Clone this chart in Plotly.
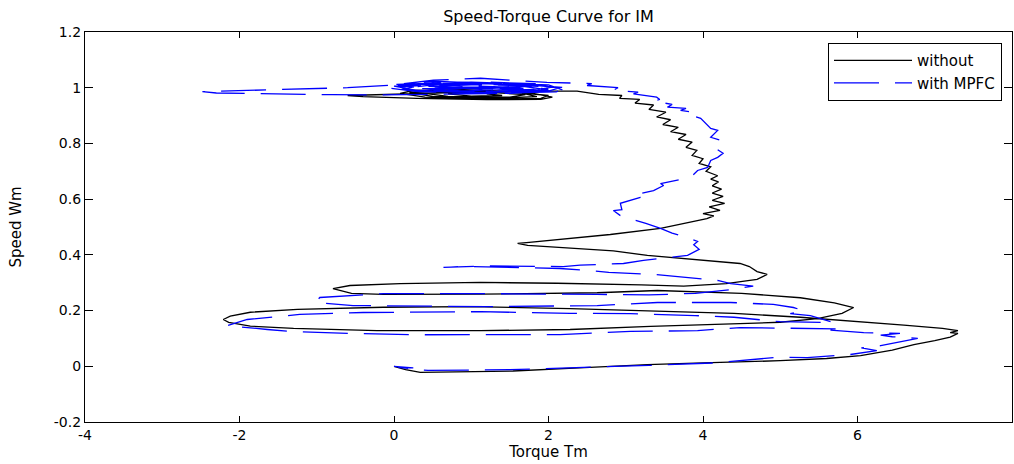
import plotly.graph_objects as go

# ---------------- data ----------------
without_torque = [
    0.00, 0.15, 0.34, 0.80, 1.54, 2.40, 3.28, 4.00, 5.00, 5.60, 6.04, 6.45, 6.73, 7.00, 7.20, 7.30, 7.20, 7.30,
    7.10, 6.60, 5.91, 5.26, 4.40, 3.41, 2.28, 1.00, -0.14, -1.25, -1.86, -2.12, -2.21, -2.14, -1.86, -1.30,
    -0.83, -0.22, 1.12, 2.28, 3.32, 4.30, 5.00, 5.48, 5.80, 5.95, 5.70, 5.26, 4.50, 3.41, 2.63, 1.12, -0.14,
    -0.55, -0.79, -0.57, 0.08, 1.12, 2.11, 3.20, 3.75, 4.30, 4.70, 4.83, 4.70, 4.60, 4.48, 3.28, 2.84, 1.73,
    1.60, 1.75, 2.15, 2.80, 3.45, 3.80, 4.05,
    4.14, 4.00, 4.22, 4.08, 4.28, 4.12, 4.26, 4.12, 4.24, 4.12, 4.20, 4.10, 4.19, 4.04, 4.10, 3.95, 4.00,
    3.86, 3.92, 3.78, 3.86, 3.68, 3.78, 3.58, 3.68, 3.48, 3.58, 3.40, 3.52, 3.30, 3.36, 3.12, 3.18, 2.92,
    2.95, 2.65, 2.37,
    1.80, 1.00, 0.20, -0.40, -0.60, -0.40, 0.30, 1.20, 1.90, 2.05, 1.70, 0.90, 0.25, 0.08, 0.40, 1.20, 1.90,
    2.00, 1.40, 0.60, 0.20, 0.50, 1.30, 1.85, 1.60, 0.90, 0.40, 0.70, 1.50, 1.70, 1.20, 0.70, 1.00, 1.40, 1.20,
]
without_speed = [
    0.000, -0.012, -0.022, -0.021, -0.017, -0.006, 0.006, 0.012, 0.020, 0.028, 0.038, 0.058, 0.078, 0.092,
    0.105, 0.118, 0.121, 0.128,
    0.136, 0.148, 0.162, 0.176, 0.190, 0.198, 0.207, 0.214, 0.212, 0.204, 0.194, 0.180, 0.168, 0.158, 0.144,
    0.136, 0.132, 0.128, 0.128, 0.132, 0.143, 0.153, 0.158, 0.171, 0.190, 0.211, 0.228, 0.246, 0.262, 0.272,
    0.264, 0.259, 0.258, 0.262, 0.279, 0.290, 0.297, 0.301, 0.298, 0.292, 0.288, 0.297, 0.312, 0.330, 0.340,
    0.358, 0.369, 0.398, 0.414, 0.434, 0.441, 0.445, 0.455, 0.473, 0.495, 0.516, 0.530,
    0.540, 0.548, 0.560, 0.572, 0.585, 0.596, 0.610, 0.622, 0.636, 0.648, 0.662, 0.672, 0.684, 0.700, 0.716,
    0.728, 0.745, 0.757, 0.775, 0.786, 0.805, 0.815, 0.832, 0.842, 0.858, 0.868, 0.885, 0.895, 0.912, 0.922,
    0.938, 0.945, 0.958, 0.962, 0.972, 0.976, 0.988,
    0.988, 0.984, 0.979, 0.975, 0.972, 0.968, 0.962, 0.957, 0.958, 0.966, 0.985, 0.993, 0.990, 0.980, 0.966,
    0.959, 0.962, 0.972, 0.988, 0.990, 0.982, 0.969, 0.962, 0.968, 0.984, 0.989, 0.980, 0.969, 0.966, 0.975,
    0.984, 0.978, 0.970, 0.972, 0.978,
]

mpfc_torque = [
    0.00, 0.25, 0.05, 0.44, 1.50, 2.41, 3.30, 4.14, 4.60, 5.00, 5.35, 5.90, 6.25, 6.05, 6.30, 6.55, 6.78,
    6.45, 6.30, 6.55, 6.08, 5.65, 5.80,
    4.48, 3.93, 3.06, 2.15, 0.99, 0.25, -0.57, -1.34, -1.64, -1.95, -2.16,
    -1.90, -1.22, -0.40, 0.47, 1.12, 2.28, 3.06, 3.90, 4.40, 5.00, 5.69, 5.39, 5.13, 5.30, 5.17,
    4.91, 4.36, 3.41, 2.63, 1.20, -0.53, -1.02,
    -0.96, -0.14, 1.12, 2.63, 3.30, 3.90, 4.36, 4.65, 4.36, 4.19, 3.60, 3.36, 2.78, 2.54, 2.15, 0.99, 0.64,
    1.20, 2.19, 2.41, 2.97, 3.23, 3.80, 3.95, 3.88, 3.93, 3.75, 3.60, 3.45, 3.26, 2.93, 2.84, 2.95, 2.93,
    3.19, 3.10, 3.36, 3.49, 3.45, 3.84, 3.93, 4.06, 4.10, 4.19, 4.26, 4.14, 4.23, 4.10, 4.19, 4.10, 3.97,
    3.85, 3.90, 3.71, 3.78, 3.54, 3.60, 3.36, 3.44, 3.40, 3.10, 3.16, 2.84, 2.90, 2.50, 2.56, 1.98, 1.54,
    1.12, 0.51,
    0.00, -0.60, -1.50, -2.20, -2.48, -2.30, -1.60, -0.80, -0.20, 0.40,
    1.50, 2.20, 2.00, 1.00, 0.00, -0.10, 0.30, 1.20, 2.10, 2.25, 1.50, 0.50, 0.00, 0.30, 1.00, 2.00, 2.15,
    1.40, 0.50, 0.05, 0.20, 0.80, 1.70, 2.05, 1.90, 1.20, 0.40, 0.10, 0.60, 1.40, 2.00, 1.80, 1.00, 0.30,
    0.40, 1.00, 1.80, 1.95, 1.20, 0.60, 0.50, 0.90, 1.50, 1.70, 1.20, 0.70, 0.90, 1.50, 1.40, 1.00,
    0.20, 0.00, 0.60, 1.60, 2.10, 1.90, 1.00, 0.20, 0.10, 0.70, 1.60, 1.95, 1.50, 0.60, 0.25, 0.50, 1.30,
    1.85, 1.60, 0.80, 0.40, 0.80, 1.50, 1.65, 1.10, 0.60, 1.00, 1.40, 1.20,
]
mpfc_speed = [
    0.000, -0.006, -0.004, -0.015, -0.012, -0.005, 0.003, 0.012, 0.024, 0.033, 0.031, 0.042, 0.056, 0.066,
    0.074, 0.088, 0.100, 0.106, 0.112, 0.118, 0.121, 0.130, 0.134,
    0.139, 0.128, 0.125, 0.114, 0.114, 0.113, 0.118, 0.125, 0.132, 0.139, 0.146,
    0.168, 0.186, 0.193, 0.196, 0.196, 0.190, 0.189, 0.182, 0.176, 0.160, 0.157, 0.182, 0.189, 0.200, 0.211,
    0.222, 0.229, 0.229, 0.218, 0.214, 0.218, 0.229,
    0.247, 0.261, 0.261, 0.258, 0.256, 0.262, 0.275, 0.288, 0.297, 0.308, 0.322, 0.330, 0.337, 0.344, 0.351,
    0.358, 0.355,
    0.360, 0.358, 0.363, 0.369, 0.380, 0.398, 0.420, 0.436, 0.448, 0.466, 0.478, 0.495, 0.513, 0.541, 0.559,
    0.562, 0.585,
    0.606, 0.614, 0.631, 0.649, 0.656, 0.678, 0.703, 0.714, 0.739, 0.750, 0.765, 0.786, 0.811, 0.822, 0.847,
    0.854, 0.890,
    0.900, 0.910, 0.919, 0.926, 0.930, 0.940, 0.952, 0.958, 0.966, 0.978, 0.984, 0.991, 1.000, 1.008, 1.015,
    1.019, 1.027,
    1.034, 1.027,
    1.010, 1.000, 0.994, 0.990, 0.986, 0.981, 0.977, 0.975, 0.974, 0.976,
    0.980, 0.990, 1.010, 1.020, 1.012, 1.000, 0.986, 0.979, 0.985, 1.000, 1.015, 1.018, 1.005, 0.990, 0.982,
    0.988, 1.000, 1.012, 1.024, 1.008, 0.992, 0.984, 0.986, 1.002, 1.014, 1.020, 1.010, 0.995, 0.985, 0.982,
    0.990, 1.008, 1.016, 1.012, 0.998, 0.986, 0.990, 1.004, 1.012, 1.006, 0.994, 0.988, 0.996, 1.006, 1.000,
    0.994, 0.998, 1.004, 1.002, 1.000,
    0.996, 1.006, 1.016, 1.014, 1.002, 0.990, 0.984, 0.990, 1.004, 1.012, 1.008, 0.994, 0.986, 0.990, 1.002,
    1.010, 1.004, 0.994, 0.992, 1.000, 1.006, 0.998, 0.992, 0.994, 1.002, 1.003, 0.998,
    0.996, 0.999,
]

x_tick_vals = [-4, -2, 0, 2, 4, 6, 8]
x_tick_text = ["-4", "-2", "0", "2", "4", "6", "8"]
y_tick_vals = [-0.2, 0, 0.2, 0.4, 0.6, 0.8, 1.0, 1.2]
y_tick_text = ["-0.2", "0", "0.2", "0.4", "0.6", "0.8", "1", "1.2"]

FONT = "DejaVu Sans, Liberation Sans, Arial, sans-serif"

n = min(len(mpfc_torque), len(mpfc_speed))

fig = go.Figure()
fig.add_trace(go.Scatter(x=without_torque, y=without_speed, mode="lines", name="without",
                         line=dict(color="black", width=1.3)))
fig.add_trace(go.Scatter(x=mpfc_torque[:n], y=mpfc_speed[:n], mode="lines", name="with MPFC",
                         line=dict(color="#0000ff", width=1.3, dash="45px,16px")))

axis_common = dict(showline=True, linecolor="black", linewidth=1.2, mirror="ticks",
                   ticks="inside", tickcolor="black", tickwidth=1.2, showgrid=False, zeroline=False,
                   tickfont=dict(size=14, color="black", family=FONT))

fig.update_layout(
    width=1014, height=464,
    margin=dict(l=85, r=2, t=32, b=42),
    paper_bgcolor="white", plot_bgcolor="white",
    font=dict(family=FONT, size=14, color="black"),
    title=dict(text="Speed-Torque Curve for IM", x=0.5, xref="paper", xanchor="center",
               y=1 - 16 / 464, yref="container", yanchor="middle",
               font=dict(size=16, family=FONT, color="black")),
    xaxis=dict(range=[-4, 8], tickvals=x_tick_vals, ticktext=x_tick_text, ticklen=6,
               title=dict(text="Torque Tm", standoff=2, font=dict(size=15)), **axis_common),
    yaxis=dict(range=[-0.2, 1.2], tickvals=y_tick_vals, ticktext=y_tick_text, ticklen=8,
               title=dict(text="Speed Wm", standoff=28, font=dict(size=15)), **axis_common),
    legend=dict(x=0.989, y=0.972, xanchor="right", yanchor="top", bordercolor="black",
                borderwidth=1.2, bgcolor="white", font=dict(size=15, family=FONT),
                itemwidth=78, tracegroupgap=0),
    showlegend=True,
)

fig.write_html("out.html")
